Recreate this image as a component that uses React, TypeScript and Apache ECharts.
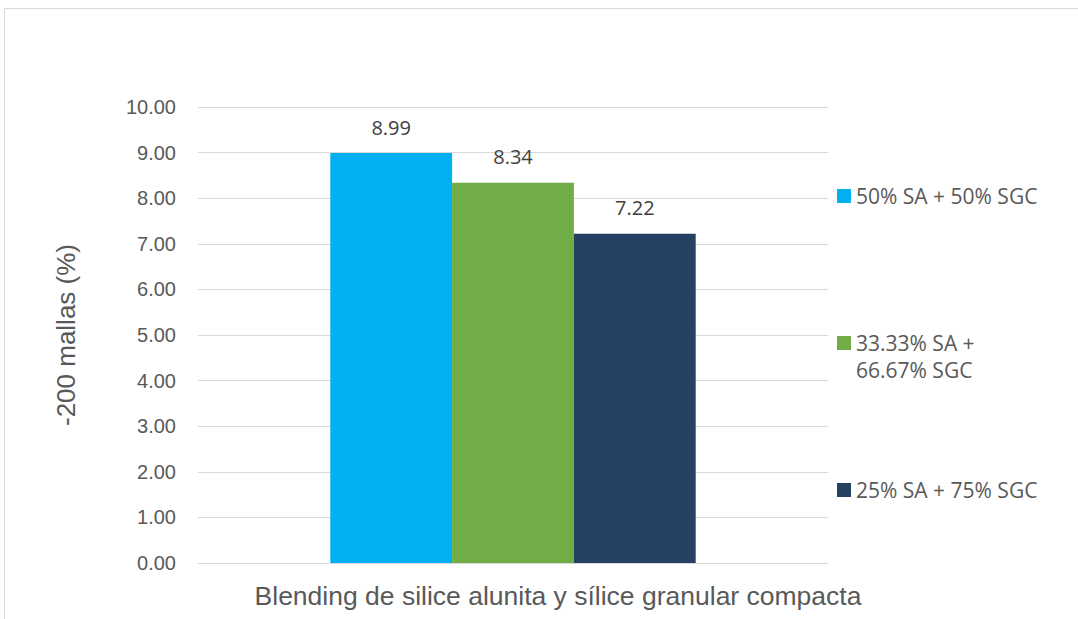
import React, { useEffect, useRef } from "react";
import * as echarts from "echarts";

const categories = ["Blending de silice alunita y sílice granular compacta"];
const seriesNames = ["50% SA + 50% SGC", "33.33% SA + 66.67% SGC", "25% SA + 75% SGC"];
const seriesValues = [[8.99], [8.34], [7.22]];
const seriesColors = ["#00B0F0", "#70AD47", "#264061"];
const yTicks = { min: 0, max: 10, interval: 1 };

export default function App() {
  const ref = useRef<HTMLDivElement>(null);
  useEffect(() => {
    if (!ref.current) return;
    const chart = echarts.init(ref.current, undefined, { renderer: "svg" });
    const legendTops = [183, 330, 477];
    chart.setOption({
      animation: false,
      backgroundColor: "#ffffff",
      grid: { left: 198, right: 250, top: 107, bottom: 56 },
      legend: seriesNames.map((n, i) => ({
        data: [n],
        orient: "vertical",
        left: 837,
        top: legendTops[i],
        icon: "rect",
        itemWidth: 14,
        itemHeight: 14,
        itemGap: 0,
        padding: 0,
        selectedMode: false,
        formatter: (name: string) => (name === "33.33% SA + 66.67% SGC" ? "33.33% SA +" : name),
        textStyle: { fontFamily: "Open Sans", fontSize: 21, color: "#595959", lineHeight: 26 },
      })),
      graphic: [
        {
          type: "rect",
          shape: { x: 4.5, y: 8.5, width: 1200, height: 800 },
          style: { fill: "none", stroke: "#D9D9D9", lineWidth: 1 },
          silent: true,
        },
        {
          type: "text",
          left: 856,
          top: 359,
          style: { text: "66.67% SGC", fontFamily: "Open Sans", fontSize: 21, fill: "#595959" },
        },
      ],
      xAxis: {
        type: "category",
        data: categories,
        axisLine: { show: true, lineStyle: { color: "#D9D9D9", width: 1 } },
        axisTick: { show: false },
        axisLabel: {
          color: "#595959",
          fontFamily: "Liberation Sans",
          fontSize: 26.5,
          margin: 19,
          padding: [0, 0, 0, 90],
        },
      },
      yAxis: {
        type: "value",
        min: yTicks.min,
        max: yTicks.max,
        interval: yTicks.interval,
        name: "-200 mallas (%)",
        nameLocation: "middle",
        nameGap: 119,
        nameTextStyle: { color: "#595959", fontFamily: "Liberation Sans", fontSize: 26 },
        axisLine: { show: false },
        axisTick: { show: false },
        axisLabel: {
          color: "#595959",
          fontFamily: "Liberation Sans",
          fontSize: 20,
          margin: 22,
          formatter: (v: number) => v.toFixed(2),
        },
        splitLine: { lineStyle: { color: "#D9D9D9", width: 1 } },
      },
      series: seriesNames.map((n, i) => ({
        name: n,
        type: "bar",
        data: seriesValues[i],
        barGap: "0%",
        barCategoryGap: "42%",
        itemStyle: { color: seriesColors[i] },
        label: {
          show: true,
          position: "top",
          distance: 16,
          color: "#404040",
          fontFamily: "Open Sans",
          fontSize: 20,
          formatter: (p: any) => p.value.toFixed(2),
        },
      })),
    });
    return () => chart.dispose();
  }, []);
  return <div ref={ref} style={{ position: "absolute", left: 0, top: 0, width: 1078, height: 619 }} />;
}
